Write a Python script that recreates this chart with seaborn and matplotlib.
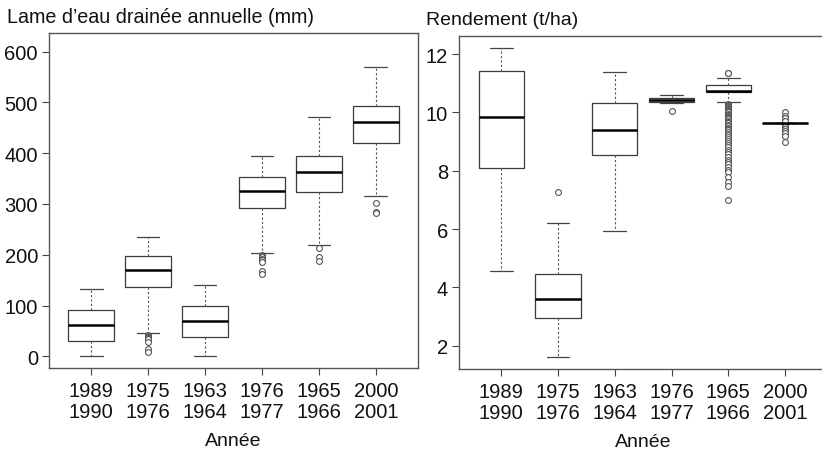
import pandas as pd
import matplotlib
matplotlib.use("Agg")
import matplotlib.pyplot as plt
import seaborn as sns

annees = ["1989\n1990", "1975\n1976", "1963\n1964", "1976\n1977", "1965\n1966", "2000\n2001"]

# moustache basse, q1, mediane, q3, moustache haute
lame_stats = [
    [0, 31, 62, 92, 133],
    [46, 137, 169, 198, 235],
    [0, 38, 70, 100, 140],
    [203, 293, 326, 354, 394],
    [219, 323, 363, 394, 472],
    [315, 420, 461, 492, 569],
]
lame_out = [
    [],
    [42, 40, 38, 36, 34, 28, 14, 9],
    [],
    [199, 197, 195, 192, 189, 185, 168, 163],
    [213, 195, 187],
    [301, 285, 283],
]

rdt_stats = [
    [4.57, 8.08, 9.83, 11.41, 12.22],
    [1.60, 2.94, 3.60, 4.46, 6.21],
    [5.92, 8.55, 9.39, 10.31, 11.37],
    [10.32, 10.35, 10.43, 10.50, 10.60],
    [10.34, 10.70, 10.73, 10.95, 11.18],
    [9.65, 9.65, 9.65, 9.65, 9.65],
]
rdt_out = [
    [],
    [7.28],
    [],
    [10.06],
    [11.35, 11.36, 10.30, 10.27, 10.24, 10.21, 10.18, 10.15, 10.12, 10.09, 10.06,
     10.03, 10.00, 9.96, 9.92, 9.88, 9.84, 9.80, 9.76, 9.72, 9.68, 9.63, 9.58,
     9.53, 9.48, 9.43, 9.38, 9.33, 9.27, 9.21, 9.15, 9.09, 9.02, 8.95, 8.88,
     8.80, 8.72, 8.64, 8.56, 8.47, 8.38, 8.30, 8.22, 8.13, 8.04, 7.94, 7.77,
     7.62, 7.46, 6.99],
    [10.00, 9.88, 9.80, 9.72, 9.58, 9.50, 9.42, 9.35, 9.28, 9.20, 9.00],
]


def tableau(stats, outs, k=200):
    # on repete q1, mediane et q3 pour que les quartiles tombent juste
    rows = []
    for lab, (lo, q1, med, q3, hi), out in zip(annees, stats, outs):
        vals = [lo] + [q1] * k + [med] * k + [q3] * k + [hi] + list(out)
        rows += [(lab, v) for v in vals]
    return pd.DataFrame(rows, columns=["annee", "valeur"])


sns.set_style("white")
plt.rcParams["font.family"] = ["Liberation Sans", "DejaVu Sans"]
plt.rcParams["text.color"] = "#111111"
plt.rcParams["axes.labelcolor"] = "#111111"

fig = plt.figure(figsize=(8.22, 4.52), dpi=100)
ax1 = fig.add_axes([49 / 822, 1 - 369.3 / 452, 369 / 822, 335.3 / 452])
ax2 = fig.add_axes([459.3 / 822, 1 - 370 / 452, 367.7 / 822, 333.3 / 452])

box_kw = dict(
    color="white", linecolor="#3a3a3a", linewidth=0.9, width=0.8, whis=1.5,
    medianprops=dict(color="black", linewidth=1.8),
    whiskerprops=dict(color="#555555", linestyle=(0, (2, 2)), linewidth=0.8),
    capprops=dict(color="#444444", linewidth=0.9),
    flierprops=dict(marker="o", markersize=4.2, markerfacecolor="white",
                    markeredgecolor="#555555", markeredgewidth=0.8),
)

for ax, stats, outs, ylim, yticks in [
    (ax1, lame_stats, lame_out, (-23.6, 636.7), [0, 100, 200, 300, 400, 500, 600]),
    (ax2, rdt_stats, rdt_out, (1.2, 12.63), [2, 4, 6, 8, 10, 12]),
]:
    df = tableau(stats, outs)
    sns.boxplot(data=df, x="annee", y="valeur", order=annees, ax=ax, **box_kw)
    ax.set_xlim(-0.74, 5.74)
    ax.set_ylim(*ylim)
    ax.set_yticks(yticks)
    ax.set_ylabel("")
    ax.set_xlabel("Année", fontsize=14, labelpad=8)
    ax.tick_params(axis="both", direction="out", length=5, width=0.8,
                   color="#444444", labelcolor="#111111", labelsize=14.5,
                   left=True, bottom=True)
    ax.tick_params(axis="x", pad=4)
    ax.tick_params(axis="y", pad=3)
    for lab in ax.get_xticklabels():
        lab.set_linespacing(1.15)
    for sp in ax.spines.values():
        sp.set_visible(True)
        sp.set_color("#555555")
        sp.set_linewidth(1.0)

fig.text(7 / 822, 1 - 23 / 452, "Lame d\u2019eau drainée annuelle (mm)", fontsize=14.2,
         ha="left", va="baseline")
fig.text(426 / 822, 1 - 25 / 452, "Rendement (t/ha)", fontsize=14,
         ha="left", va="baseline")

fig.savefig("out.png", dpi=100)
